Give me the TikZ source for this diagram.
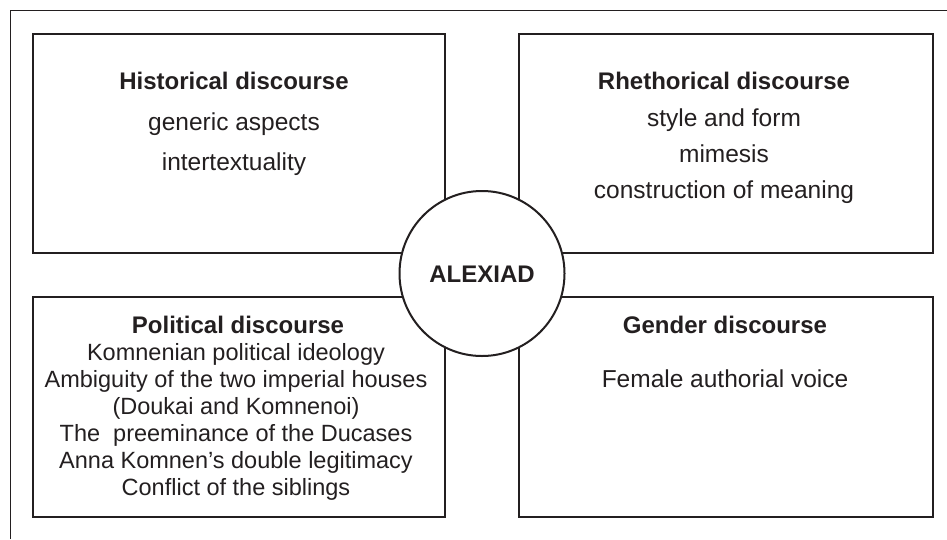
\documentclass[tikz,border=0pt]{standalone}
\usepackage{fontspec}
\setmainfont{Liberation Sans}
\definecolor{ink}{HTML}{231F20}
\begin{document}
\begin{tikzpicture}[x=1pt,y=-1pt,
  box/.style={draw=ink, line width=2pt, inner sep=0pt},
  ttl/.style={anchor=base, font=\fontsize{24}{26}\selectfont\bfseries, text=ink, inner sep=0pt},
  txt/.style={anchor=base, font=\fontsize{24.5}{26}\selectfont, text=ink, inner sep=0pt},
  ptxt/.style={anchor=base, font=\fontsize{23.5}{27}\selectfont, text=ink, inner sep=0pt}]
\useasboundingbox (0,0) rectangle (947,539);
\draw[ink, line width=1pt] (10,539) -- (10,10) -- (947,10);
% boxes
\node[box, minimum width=412.5pt, minimum height=219pt] (hist) at (238.75,143) {};
\node[box, minimum width=414pt, minimum height=219pt] (rhet) at (726,143) {};
\node[box, minimum width=412.5pt, minimum height=220.5pt] (pol) at (238.75,406.75) {};
\node[box, minimum width=414pt, minimum height=220.5pt] (gen) at (726,406.75) {};
% centre circle
\node[circle, draw=ink, fill=white, line width=2pt, minimum size=165pt, inner sep=0pt] (alex) at (482,273.5) {};
\node[ttl] (alext) at (482,282) {ALEXIAD};
% historical
\node[ttl] (h0) at (234,89) {Historical discourse};
\node[txt] (h1) at (234,130) {generic aspects};
\node[txt] (h2) at (234,170) {intertextuality};
% rhetorical
\node[ttl] (r0) at (724,89) {Rhethorical discourse};
\node[txt] (r1) at (724,126) {style and form};
\node[txt] (r2) at (724,162) {mimesis};
\node[txt] (r3) at (724,198) {construction of meaning};
% political
\node[ttl] (p0) at (238,333) {Political discourse};
\node[ptxt] (p1) at (236,360) {Komnenian political ideology};
\node[ptxt] (p2) at (236,387) {Ambiguity of the two imperial houses};
\node[ptxt] (p3) at (236,414) {(Doukai and Komnenoi)};
\node[ptxt] (p4) at (236,441) {The\ \ preeminance of the Ducases};
\node[ptxt] (p5) at (236,468) {Anna Komnen’s double legitimacy};
\node[ptxt] (p6) at (236,495) {Conflict of the siblings};
% gender
\node[ttl] (g0) at (725,333) {Gender discourse};
\node[txt] (g1) at (725,387) {Female authorial voice};
\end{tikzpicture}
\end{document}
